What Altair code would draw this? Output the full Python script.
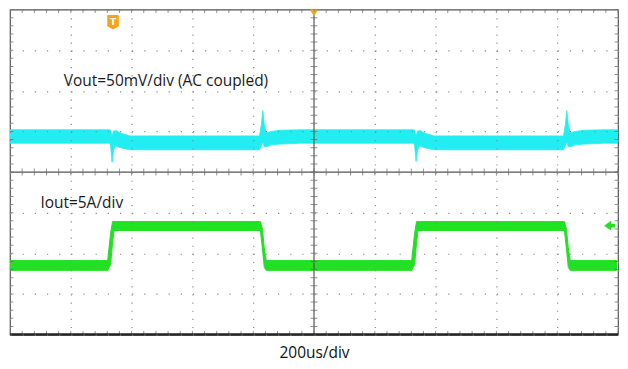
import altair as alt
import pandas as pd

# Horizontal: time in microseconds (200 us/div, 10 divisions)
# Vertical: screen divisions (-4 .. 4), 8 divisions
grid_t = [0, 200, 400, 600, 800, 1000, 1200, 1400, 1600, 1800, 2000]
grid_v = [-4, -3, -2, -1, 0, 1, 2, 3, 4]
minor_t = list(range(0, 2001, 40))
minor_v = [round(-4 + 0.2 * i, 2) for i in range(41)]

# Vout trace (50 mV/div, AC coupled): upper / lower envelope of the noisy band
vout_t = [0, 327.7, 330.9, 335.7, 340.5, 346.9, 362.9, 394.9, 820.5, 826.9, 831.7, 836.5, 842.9, 858.9, 890.9, 954.9,
          1327.7, 1330.9, 1335.7, 1340.5, 1346.9, 1362.9, 1394.9, 1820.5, 1826.9, 1831.7, 1836.5, 1842.9, 1858.9, 1890.9, 1954.9, 2000]
vout_hi = [1.04, 1.04, 1.03, 0.89, 1.00, 1.03, 0.96, 0.89, 0.89, 1.17, 1.51, 1.17, 0.96, 1.00, 1.03, 1.04,
           1.04, 1.03, 0.89, 1.00, 1.03, 0.96, 0.89, 0.89, 1.17, 1.51, 1.17, 0.96, 1.00, 1.03, 1.04, 1.04]
vout_lo = [0.71, 0.71, 0.65, 0.24, 0.53, 0.65, 0.60, 0.55, 0.55, 0.65, 0.74, 0.62, 0.62, 0.67, 0.69, 0.71,
           0.71, 0.65, 0.26, 0.53, 0.65, 0.60, 0.55, 0.55, 0.65, 0.74, 0.62, 0.62, 0.67, 0.69, 0.71, 0.71]

# Iout trace (5 A/div): upper / lower envelope
iout_t = [0, 321.3, 330.9, 337.3, 342.1, 823.7, 830.1, 836.5, 842.9,
          1321.3, 1330.9, 1337.3, 1342.1, 1823.7, 1830.1, 1836.5, 1842.9, 1995]
iout_hi = [-2.18, -2.18, -1.51, -1.22, -1.22, -1.22, -1.39, -1.87, -2.18,
           -2.18, -1.51, -1.22, -1.22, -1.22, -1.39, -1.87, -2.18, -2.18]
iout_lo = [-2.42, -2.42, -2.28, -1.75, -1.44, -1.44, -1.87, -2.35, -2.42,
           -2.42, -2.28, -1.75, -1.44, -1.44, -1.87, -2.35, -2.42, -2.42]

label_text = ["Vout=50mV/div (AC coupled)", "Iout=5A/div"]
label_t = [177, 100]
label_v = [2.25, -0.77]

FONT = "Open Sans"
CYAN = "#22EEF2"
GREEN = "#22E022"
ORANGE = "#F5A31E"

x_enc = alt.X("t:Q",
              scale=alt.Scale(domain=[0, 2000], nice=False, zero=False),
              axis=alt.Axis(values=grid_t, grid=True, gridDash=[1.2, 6.95], gridColor="#8a8a8a",
                            gridWidth=1.2, labels=False, ticks=False, domain=False,
                            title="200us/div", titleFont=FONT, titleFontSize=15.5,
                            titleFontWeight="normal", titleColor="#111111", titlePadding=11,
                            zindex=1))
y_enc = alt.Y("v:Q",
              scale=alt.Scale(domain=[-4, 4], nice=False, zero=False),
              axis=alt.Axis(values=grid_v, grid=True, gridDash=[1.2, 11.0], gridColor="#8a8a8a",
                            gridWidth=1.2, labels=False, ticks=False, domain=False, title=None,
                            minExtent=0, maxExtent=0, zindex=1))

vout_df = pd.DataFrame({"t": vout_t, "v": vout_hi, "v2": vout_lo})
iout_df = pd.DataFrame({"t": iout_t, "v": iout_hi, "v2": iout_lo})

vout_area = alt.Chart(vout_df).mark_area(color=CYAN, stroke=CYAN, strokeWidth=0.8, clip=True).encode(
    x=x_enc, y=y_enc, y2=alt.Y2("v2:Q"))
iout_area = alt.Chart(iout_df).mark_area(color=GREEN, stroke=GREEN, strokeWidth=1.0, clip=True).encode(
    x=x_enc, y=y_enc, y2=alt.Y2("v2:Q"))

center_v = alt.Chart(pd.DataFrame({"t": [1000]})).mark_rule(color="#555555", strokeWidth=1.2).encode(x=x_enc)
center_h = alt.Chart(pd.DataFrame({"v": [0]})).mark_rule(color="#555555", strokeWidth=1.2).encode(y=y_enc)

vt_rows = [{"t": t, "v": v} for v in [4, 0, -4] for t in minor_t]
ht_rows = [{"t": t, "v": v} for t in [0, 1000, 2000] for v in minor_v]
ticks_vert = alt.Chart(pd.DataFrame(vt_rows)).mark_tick(
    orient="vertical", size=7, thickness=1, color="#666666", clip=True).encode(x=x_enc, y=y_enc)
ticks_horz = alt.Chart(pd.DataFrame(ht_rows)).mark_tick(
    orient="horizontal", size=7, thickness=1, color="#666666", clip=True).encode(x=x_enc, y=y_enc)

bottom_rule = alt.Chart(pd.DataFrame({"v": [-4]})).mark_rule(color="#222222", strokeWidth=2.6).encode(y=y_enc)

labels = alt.Chart(pd.DataFrame({"t": label_t, "v": label_v, "text": label_text})).mark_text(
    align="left", baseline="middle", font=FONT, fontSize=15.5, color="#1a1a1a").encode(
    x=x_enc, y=y_enc, text="text:N")

shield = "M-0.65,-1 L0.65,-1 Q0.8,-1 0.8,-0.85 L0.8,0.55 L0,1 L-0.8,0.55 L-0.8,-0.85 Q-0.8,-1 -0.65,-1 Z"
trig_df = pd.DataFrame({"t": [339], "v": [3.69], "text": ["T"]})
trig = alt.Chart(trig_df).mark_point(shape=shield, filled=True, size=210, color=ORANGE, opacity=1).encode(
    x=x_enc, y=y_enc)
trig_t = alt.Chart(trig_df).mark_text(font="DejaVu Sans", fontSize=9, fontWeight="bold", color="white",
                                      baseline="middle", align="center").encode(x=x_enc, y=y_enc, text="text:N")

top_tri = alt.Chart(pd.DataFrame({"t": [1000], "v": [3.93]})).mark_point(
    shape="triangle-down", filled=True, size=90, color=ORANGE, opacity=1, clip=True).encode(
    x=x_enc, y=y_enc)

arrow = alt.Chart(pd.DataFrame({"t": [1972], "v": [-1.32]})).mark_point(
    shape="M-1,0 L0.3,-0.9 L0.3,-0.35 L1,-0.35 L1,0.35 L0.3,0.35 L0.3,0.9 Z",
    filled=True, size=120, color=GREEN, opacity=1).encode(x=x_enc, y=y_enc)

chart = alt.layer(
    vout_area, iout_area, center_v, center_h, ticks_vert, ticks_horz, bottom_rule,
    labels, trig, trig_t, top_tri, arrow
).properties(
    width=610, height=326,
    padding={"left": 0, "top": 0, "right": 0, "bottom": 0},
    background="white"
).configure_view(stroke="#555555", strokeWidth=1.2)

chart.save("out.html", embed_options={"renderer": "svg", "actions": False})
